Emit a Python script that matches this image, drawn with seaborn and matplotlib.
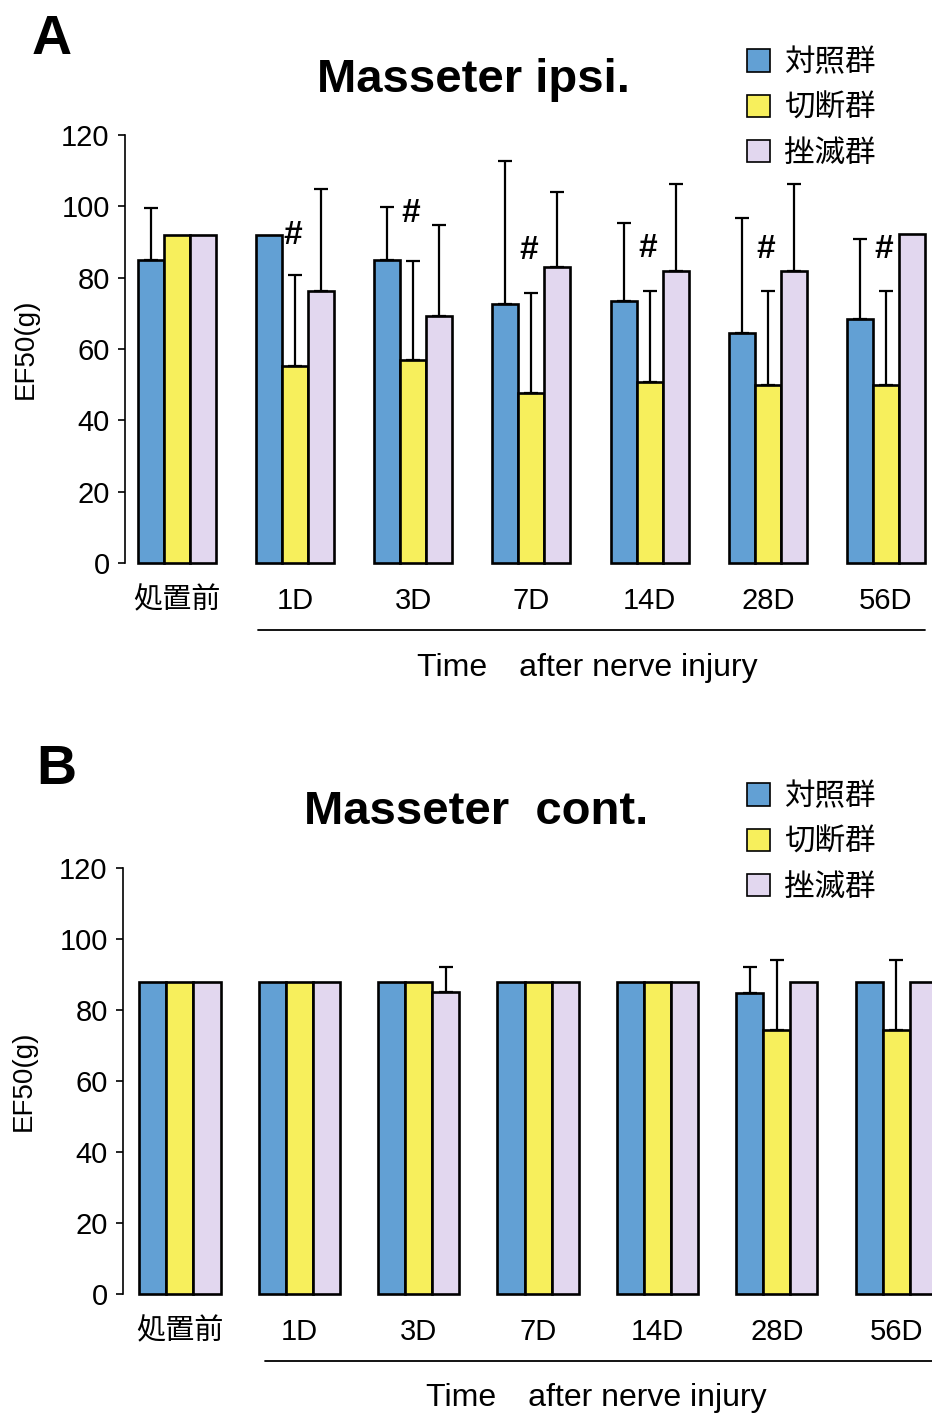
import numpy as np
import pandas as pd
import matplotlib
matplotlib.use("Agg")
import matplotlib.pyplot as plt
import seaborn as sns
from matplotlib.patches import Patch

# time points and groups
times = ['処置前', '1D', '3D', '7D', '14D', '28D', '56D']
groups = ['対照群', '切断群', '挫滅群']

# panel A (Masseter ipsi.) means and upper SD
a_control = [85.0, 92.0, 85.0, 72.5, 73.5, 64.5, 68.3]
a_cut = [92.0, 55.3, 56.9, 47.6, 50.7, 49.9, 49.9]
a_crush = [92.0, 76.3, 69.2, 83.1, 82.0, 82.0, 92.2]
a_control_sd = [14.6, 0, 14.8, 40.3, 21.9, 32.3, 22.5]
a_cut_sd = [0, 25.4, 27.8, 28.2, 25.6, 26.4, 26.4]
a_crush_sd = [0, 28.5, 25.6, 20.8, 24.3, 24.3, 0]
a_hash_y = [None, 91.7, 98.0, 87.7, 88.3, 88.0, 88.0]

# panel B (Masseter cont.)
b_control = [88.0, 88.0, 88.0, 88.0, 88.0, 84.7, 88.0]
b_cut = [88.0, 88.0, 88.0, 88.0, 88.0, 74.4, 74.4]
b_crush = [88.0, 88.0, 85.2, 88.0, 88.0, 88.0, 88.0]
b_control_sd = [0, 0, 0, 0, 0, 7.5, 0]
b_cut_sd = [0, 0, 0, 0, 0, 19.7, 19.7]
b_crush_sd = [0, 0, 6.8, 0, 0, 0, 0]

colors = {'対照群': '#62a0d4', '切断群': '#f7ef5c', '挫滅群': '#e2d7ef'}

sns.set_style('white')
plt.rcParams['font.family'] = ['Liberation Sans', 'Noto Sans CJK JP']
plt.rcParams['text.color'] = 'black'
plt.rcParams['axes.labelcolor'] = 'black'
plt.rcParams['xtick.color'] = 'black'
plt.rcParams['ytick.color'] = 'black'

fig = plt.figure(figsize=(9.32, 14.18), dpi=100)


def make_df(c, k, r):
    return pd.DataFrame({
        'time': times * 3,
        'group': [g for g in groups for _ in times],
        'value': c + k + r,
    })


def draw_panel(ax, df, sds, width, xlim, hash_y, line_x, text_x):
    sns.barplot(data=df, x='time', y='value', hue='group', hue_order=groups,
                order=times, palette=colors, width=width, gap=0,
                errorbar=None, edgecolor='black', linewidth=1.9,
                saturation=1, legend=False, ax=ax)
    # upper error bars only
    for cont, sd in zip(ax.containers, sds):
        for bar, s in zip(cont, sd):
            bar.set_clip_on(False)
            if s > 0:
                xc = bar.get_x() + bar.get_width() / 2
                ax.errorbar(xc, bar.get_height(), yerr=[[0], [s]], fmt='none',
                            ecolor='black', elinewidth=1.6, capsize=5,
                            capthick=1.6, clip_on=False)
    if hash_y is not None:
        for i, hy in enumerate(hash_y):
            if hy is not None:
                ax.text(i - 0.02, hy, '#', ha='center', va='center', fontsize=24,
                        fontweight='bold')
    ax.set_ylim(0, 120)
    ax.set_xlim(*xlim)
    ax.set_yticks([0, 20, 40, 60, 80, 100, 120])
    ax.tick_params(axis='y', direction='out', length=5, width=1.2,
                   labelsize=21, pad=6, left=True)
    ax.tick_params(axis='x', length=0, labelsize=21, pad=17)
    ax.set_xlabel('')
    ax.set_ylabel('EF50(g)', fontsize=20, labelpad=16)
    sns.despine(ax=ax, bottom=True)
    ax.spines['left'].set_linewidth(1.2)
    ax.spines['left'].set_color('black')
    # bracket line and caption
    ax.plot(line_x, [-0.157, -0.157], color='black', lw=1.3,
            transform=ax.get_xaxis_transform(), clip_on=False)
    ax.text(text_x, -0.245, 'Time\u3000after nerve injury', ha='center',
            va='center', fontsize=23, transform=ax.get_xaxis_transform())


axA = fig.add_axes([0.1341, 0.6030, 0.8659, 0.3018])
draw_panel(axA, make_df(a_control, a_cut, a_crush),
           [a_control_sd, a_cut_sd, a_crush_sd], 0.66, (-0.44, 6.39),
           a_hash_y, [0.685, 6.33], 3.47)

axB = fig.add_axes([0.1320, 0.0874, 0.8680, 0.3005])
draw_panel(axB, make_df(b_control, b_cut, b_crush),
           [b_control_sd, b_cut_sd, b_crush_sd], 0.68, (-0.477, 6.30),
           None, [0.71, 6.31], 3.49)

# titles, panel letters and legends in figure pixels
W, H = 932, 1418
fig.text(52 / W, 1 - 40 / H, 'A', fontsize=40, fontweight='bold', ha='center', va='center')
fig.text(56 / W, 1 - 770 / H, 'B', fontsize=40, fontweight='bold', ha='center', va='center')
fig.text(473 / W, 1 - 80 / H, 'Masseter ipsi.', fontsize=34, fontweight='bold', ha='center', va='center')
fig.text(476 / W, 1 - 812 / H, 'Masseter  cont.', fontsize=34, fontweight='bold', ha='center', va='center')

handles = [Patch(facecolor=colors[g], edgecolor='black', linewidth=1.2) for g in groups]
for top in [36, 770]:
    fig.legend(handles, groups, loc='upper left', bbox_to_anchor=(735 / W, 1 - top / H),
               frameon=False, fontsize=22, handlelength=0.75, handleheight=0.75,
               handletextpad=0.45, labelspacing=0.5, borderaxespad=0)

fig.savefig('out.png', dpi=100)
